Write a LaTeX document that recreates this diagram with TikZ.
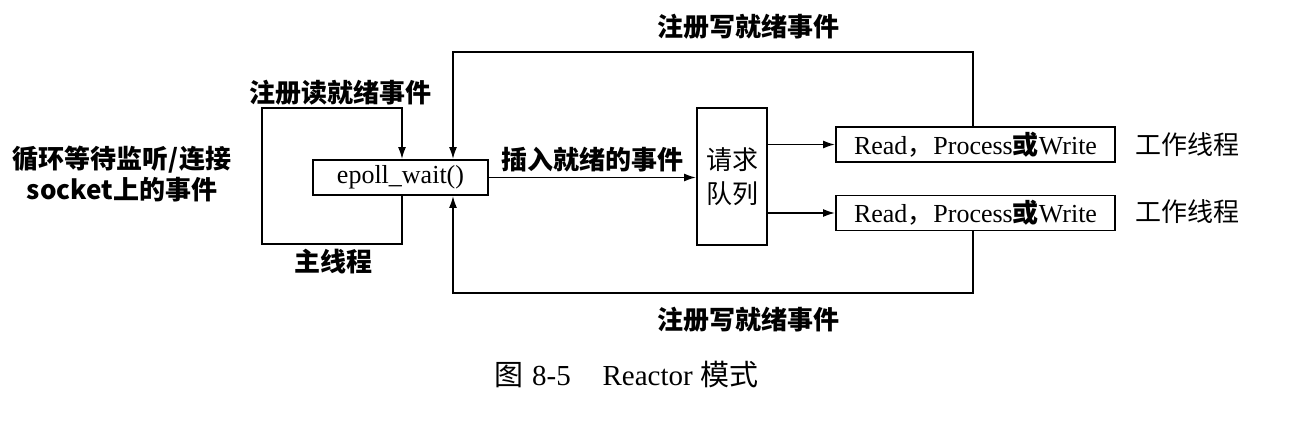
\documentclass[tikz,border=0pt]{standalone}
\usepackage{fontspec}
\setmainfont{Liberation Serif}
\newfontfamily\cjk{Noto Sans CJK SC}
\usetikzlibrary{arrows.meta}
\tikzset{
  box/.style={draw, line width=0.9pt, inner sep=0pt, font=\fontsize{13}{15}\selectfont},
  arr/.style={line width=0.9pt, -{Latex[length=6pt,width=4pt]}},
  lbl/.style={inner sep=0pt, font=\fontsize{13}{15}\selectfont\cjk\bfseries},
  reg/.style={inner sep=0pt, font=\fontsize{13}{15}\selectfont\cjk},
}
\begin{document}
\begin{tikzpicture}[x=0.5pt,y=-0.5pt]
\useasboundingbox (0,0) rectangle (1302,432);
% boxes
\node[box, minimum width=87.5pt, minimum height=17.5pt] (epoll) at (400.5,177.5) {epoll\_wait()};
\node[box, minimum width=35pt, minimum height=68.5pt, align=center, font=\fontsize{13}{17}\selectfont\cjk] (queue) at (732,176.5) {请求\\队列};
\node[box, minimum width=139.5pt, minimum height=17.5pt] (w1) at (975.5,144.5) {Read{\cjk ，}Process{\cjk\bfseries 或}Write};
\node[box, minimum width=139.5pt, minimum height=17.5pt] (w2) at (975.5,213) {Read{\cjk ，}Process{\cjk\bfseries 或}Write};
% coordinates
\coordinate (lbl) at (262,244);
\coordinate (ltr) at (402,108);
\coordinate (tr) at (973,52);
\coordinate (tl) at (453,52);
\coordinate (br) at (973,293);
\coordinate (bl) at (453,293);
% connectors
\draw[arr] (epoll.south -| ltr) |- (lbl) |- (ltr) -- (epoll.north -| ltr);
\draw[arr] (w1.north -| tr) |- (tl) -- (epoll.north -| tl);
\draw[arr] (w2.south -| br) |- (bl) -- (epoll.south -| bl);
\draw[arr] (epoll.east) -- (epoll.east -| queue.west);
\draw[arr] (queue.east |- w1.west) -- (w1.west);
\draw[arr] (queue.east |- w2.west) -- (w2.west);
% labels
\node[lbl] (lread) at (340,93) {注册读就绪事件};
\node[lbl] (lmain) at (333,262) {主线程};
\node[lbl] (lleft1) at (122,160) {循环等待监听/连接};
\node[lbl] (lleft2) at (122,190) {socket上的事件};
\node[lbl] (ltop) at (748,27) {注册写就绪事件};
\node[lbl] (lbot) at (748,320) {注册写就绪事件};
\node[lbl] (lins) at (592,160) {插入就绪的事件};
\node[reg] (wk1) at (1187,145) {工作线程};
\node[reg] (wk2) at (1187,212) {工作线程};
\node[inner sep=0pt, font=\fontsize{14.5}{16}\selectfont, anchor=west] (cap) at (494,375) {{\cjk 图}\hspace{0.3em}8-5\hspace{1.1em}Reactor {\cjk 模式}};
\end{tikzpicture}
\end{document}
